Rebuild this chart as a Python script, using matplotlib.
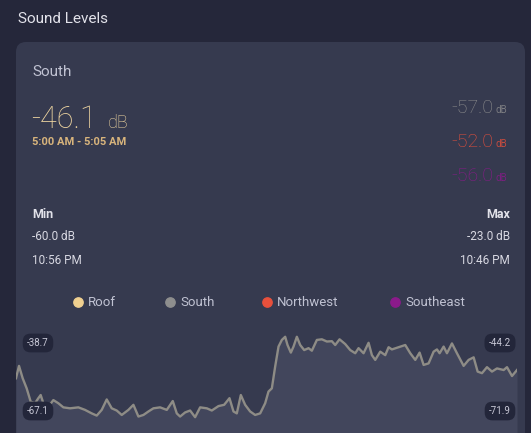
import matplotlib.pyplot as plt
from matplotlib.patches import FancyBboxPatch

plt.rcParams['font.family'] = ['Roboto', 'DejaVu Sans']

# series: sample position across the period and level in dB
t = [48, 57, 68, 80, 92, 105, 115, 122, 130, 145, 160, 175, 190, 210, 235, 255, 275, 290,
     305, 320, 335, 350, 365, 385, 400, 415, 430, 445, 460, 480, 500, 518, 530, 540, 555,
     570, 585, 600, 620, 635, 655, 672, 688, 700, 710, 722, 735, 750, 765, 780, 795, 805,
     815, 825, 835, 845, 855, 862, 872, 880, 890, 900, 912, 925, 935, 950, 965, 980, 995,
     1005, 1018, 1035, 1050, 1065, 1075, 1090, 1105, 1115, 1125, 1140, 1155, 1165, 1175,
     1195, 1215, 1230, 1245, 1258, 1270, 1285, 1300, 1310, 1318, 1330, 1340, 1355, 1370,
     1390, 1405, 1420, 1432, 1445, 1460, 1475, 1490, 1510, 1520, 1535, 1550]
south_db = [-56.4, -52.5, -56.4, -59.6, -63.8, -64.3, -62.7, -61.7, -64.3, -65.4, -63.3,
            -64.3, -65.6, -65.9, -65.6, -66.4, -67.5, -68.2, -66.4, -63.1, -65.9, -66.6,
            -68.0, -66.4, -64.8, -68.5, -68.0, -66.9, -65.9, -65.6, -66.4, -63.6, -67.5,
            -68.5, -67.2, -66.6, -68.7, -65.6, -65.9, -66.6, -65.2, -64.8, -62.7, -66.9,
            -67.5, -61.7, -64.8, -66.9, -68.0, -67.5, -64.3, -60.6, -59.6, -52.7, -46.4,
            -44.3, -43.3, -45.9, -48.3, -46.4, -43.3, -45.9, -47.5, -46.9, -47.7, -44.3,
            -44.1, -44.8, -44.7, -45.9, -44.1, -45.6, -47.5, -48.5, -46.9, -48.5, -45.2,
            -49.1, -50.6, -48.0, -49.1, -46.6, -47.3, -46.6, -45.9, -48.5, -50.6, -48.3,
            -52.2, -51.7, -48.0, -47.3, -48.5, -46.4, -48.5, -45.4, -48.5, -52.5, -50.6,
            -49.8, -54.3, -54.8, -52.9, -54.3, -53.3, -53.8, -52.9, -55.7, -53.8]
tags = [("-38.7", 38, 343), ("-67.1", 38, 411), ("-44.2", 500, 343), ("-71.9", 500, 411)]
legend_names = ["Roof", "South", "Northwest", "Southeast"]
legend_colors = ["#f0d090", "#8e8e8e", "#e8503c", "#8b1a8b"]
legend_x = [78, 170, 267, 395]
side_values = ["-57.0", "-52.0", "-56.0"]

W, H = 531, 433
fig = plt.figure(figsize=(W / 100, H / 100), dpi=100)
fig.patch.set_facecolor("#25273a")
ax = fig.add_axes([0, 0, 1, 1])
ax.set_xlim(0, W)
ax.set_ylim(H, 0)
ax.axis("off")

ax.add_patch(FancyBboxPatch((16, 42), 509, 420, boxstyle="round,pad=0,rounding_size=10",
                            fc="#363a4f", ec="none"))
ax.text(18, 19, "Sound Levels", color="#e2e2ea", fontsize=11, va="center")
ax.text(32, 72, "South", color="#c0c2d2", fontsize=11, va="center")
ax.text(31, 119, "-46.1", color="#f2d8a2", fontsize=22, va="center", fontweight="light")
ax.text(108, 123, "dB", color="#f2d8a2", fontsize=13, va="center", fontweight="light")
ax.text(32, 142, "5:00 AM - 5:05 AM", color="#d8b47c", fontsize=8, fontweight="bold", va="center")

for (val, col, y) in zip(side_values, legend_colors[1:], [108, 142, 176]):
    ax.text(493, y, val, color=col, fontsize=14, va="center", ha="right", fontweight="light")
    ax.text(496, y + 2, "dB", color=col, fontsize=7, va="center", ha="left", alpha=0.8)

ax.text(32, 214, "Min", color="#e2e2ea", fontsize=9, fontweight="bold", va="center")
ax.text(32, 237, "-60.0 dB", color="#d8d8e2", fontsize=8.5, va="center")
ax.text(32, 260, "10:56 PM", color="#d8d8e2", fontsize=8.5, va="center")
ax.text(510, 214, "Max", color="#e2e2ea", fontsize=9, fontweight="bold", va="center", ha="right")
ax.text(510, 237, "-23.0 dB", color="#d8d8e2", fontsize=8.5, va="center", ha="right")
ax.text(510, 260, "10:46 PM", color="#d8d8e2", fontsize=8.5, va="center", ha="right")

for name, col, x in zip(legend_names, legend_colors, legend_x):
    ax.scatter([x], [302], s=45, color=col, zorder=3)
    ax.text(x + 10, 302, name, color="#c0c2d2", fontsize=9.5, va="center")

# line chart
cx = fig.add_axes([16 / W, 0, (517 - 16) / W, 113 / H])
cx.set_xlim(48, 1550)
cx.set_ylim(-73.7, -38)
cx.axis("off")
cx.fill_between(t, south_db, -80, color="#42465c", lw=0)
cx.plot(t, south_db, color="#8e8c86", lw=1.7)

tx = fig.add_axes([0, 0, 1, 1], zorder=5)
tx.set_xlim(0, W)
tx.set_ylim(H, 0)
tx.axis("off")
for label, x, y in tags:
    tx.text(x, y, label, color="#c8c8d6", fontsize=7, ha="center", va="center",
            bbox=dict(boxstyle="round,pad=0.45,rounding_size=0.8", fc="#23263a", ec="none"))

fig.savefig("out.png", dpi=100, facecolor=fig.get_facecolor())
